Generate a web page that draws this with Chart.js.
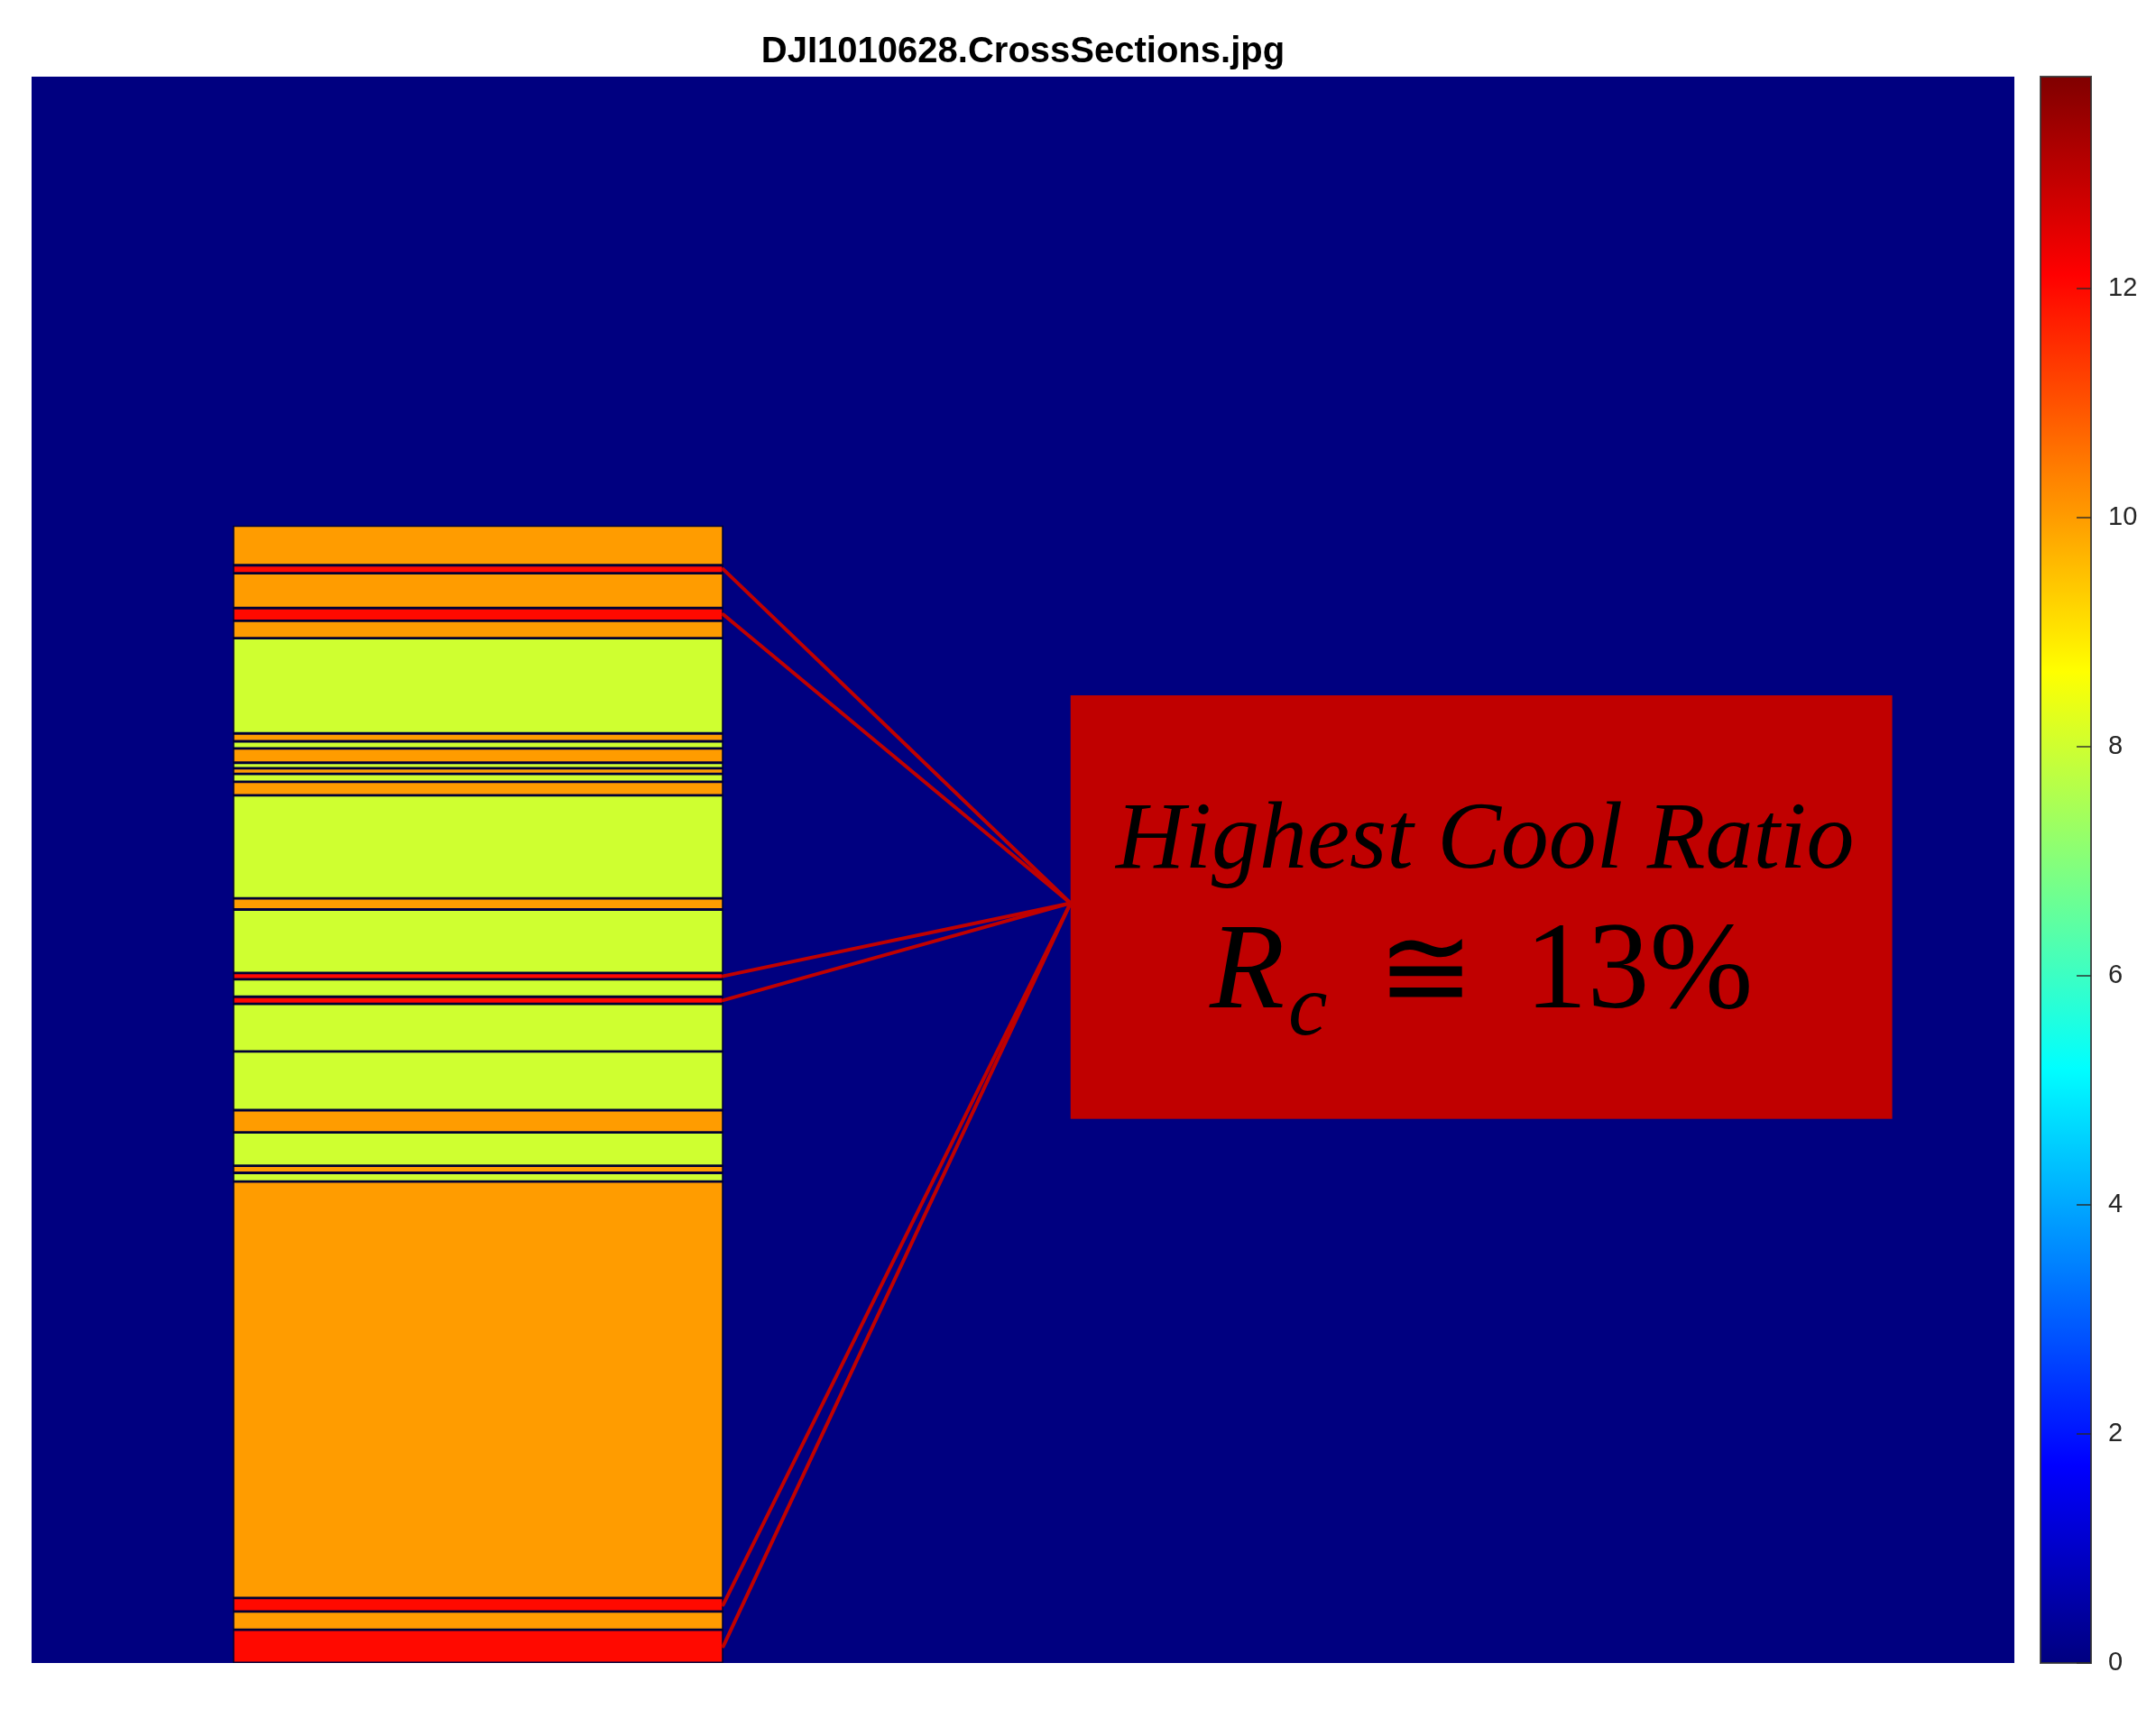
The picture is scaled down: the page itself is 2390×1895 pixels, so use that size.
<!DOCTYPE html>
<html>
<head>
<meta charset="utf-8">
<title>DJI1010628.CrossSections</title>
<script src="https://cdn.jsdelivr.net/npm/chart.js@4.4.1/dist/chart.umd.min.js"></script>
<style>
  html, body { margin: 0; padding: 0; background: #fff; }
  #chart { display: block; }
</style>
</head>
<body>
<canvas id="chart" width="2390" height="1895"></canvas>
<script>
// image grid: columns x rows, row 0 at the top (like imagesc)
const imageCols = 1250;
const imageRows = 1000;

// columns covered by the cross section strip
const sectionCols = [127, 436];

// band edges (rows, top to bottom) and cool ratio of every band
const bandEdges = [283, 308, 313, 335, 343, 354, 414, 419, 423.5, 432.5, 436, 439.5, 444.5, 453, 518, 525,
                   565, 569, 580, 584.5, 614.5, 651.5, 665.5, 686.5, 691, 696.5, 959, 967.5, 979, 1000];
const bandRatio = [10, 12, 10, 12, 10, 8, 10, 8, 10, 8, 10, 8, 10, 8, 10,
                   8, 12, 8, 12, 8, 8, 10, 8, 10, 8, 10, 12, 10, 12];

// colorbar
const colorbarMax = 13.85;
const colorbarTicks = [0, 2, 4, 6, 8, 10, 12];

const chartTitle = 'DJI1010628.CrossSections.jpg';

// callout box (image columns / rows) and the point where the leader lines meet
const calloutCols = [655, 1173];
const calloutRows = [390, 657];
const calloutAnchorRow = 521;
const calloutTitle = 'Highest Cool Ratio';
const calloutValue = '13%';

// matlab jet colormap
function jet(v) {
    const t = Math.min(Math.max(v / colorbarMax, 0), 1);
    const c = k => Math.round(255 * Math.min(Math.max(1.5 - Math.abs(4 * t - k), 0), 1));
    return 'rgb(' + c(3) + ',' + c(2) + ',' + c(1) + ')';
}

const sectionCenter = (sectionCols[0] + sectionCols[1]) / 2;
const bands = bandRatio.map((r, i) => ({ x: sectionCenter, y: [bandEdges[i], bandEdges[i + 1]] }));
const maxRatio = Math.max(...bandRatio);
const hotRows = bandRatio
    .map((r, i) => r === maxRatio ? (bandEdges[i] + bandEdges[i + 1]) / 2 : null)
    .filter(v => v !== null);

const serif = "'Liberation Serif', 'DejaVu Serif', serif";

const crossSectionPlugin = {
    id: 'crossSection',
    beforeDatasetsDraw(chart) {
        const { ctx, chartArea: a, scales } = chart;
        ctx.save();
        // background of the image = ratio 0
        ctx.fillStyle = jet(0);
        ctx.fillRect(a.left, a.top, a.right - a.left, a.bottom - a.top);

        // colorbar
        const cb = scales.cb;
        const x0 = cb.left + 29;
        const w = 56;
        const top = cb.getPixelForValue(colorbarMax);
        const bottom = cb.getPixelForValue(0);
        const grad = ctx.createLinearGradient(0, bottom, 0, top);
        for (let i = 0; i <= 40; i++) {
            grad.addColorStop(i / 40, jet(i / 40 * colorbarMax));
        }
        ctx.fillStyle = grad;
        ctx.fillRect(x0, top, w, bottom - top);
        ctx.strokeStyle = 'rgba(50,50,50,0.85)';
        ctx.lineWidth = 2;
        ctx.strokeRect(x0, top, w, bottom - top);
        ctx.strokeStyle = 'rgba(40,40,40,0.7)';
        colorbarTicks.forEach(v => {
            const y = cb.getPixelForValue(v);
            ctx.beginPath();
            ctx.moveTo(x0 + w - 16, y);
            ctx.lineTo(x0 + w, y);
            ctx.stroke();
        });
        ctx.restore();
    },
    afterDatasetsDraw(chart) {
        const { ctx, scales: { x, y } } = chart;
        const bx0 = x.getPixelForValue(calloutCols[0]);
        const bx1 = x.getPixelForValue(calloutCols[1]);
        const by0 = y.getPixelForValue(calloutRows[0]);
        const by1 = y.getPixelForValue(calloutRows[1]);
        const ax = bx0;
        const ay = y.getPixelForValue(calloutAnchorRow);
        const sx = x.getPixelForValue(sectionCols[1]);

        ctx.save();
        ctx.strokeStyle = '#c00000';
        ctx.lineWidth = 4;
        ctx.lineCap = 'round';
        hotRows.forEach(r => {
            ctx.beginPath();
            ctx.moveTo(sx, y.getPixelForValue(r));
            ctx.lineTo(ax, ay);
            ctx.stroke();
        });

        ctx.fillStyle = '#c00000';
        ctx.fillRect(bx0, by0, bx1 - bx0, by1 - by0);

        const cx = (bx0 + bx1) / 2;
        const h = by1 - by0;
        ctx.fillStyle = '#000';
        ctx.textBaseline = 'alphabetic';
        ctx.textAlign = 'left';

        ctx.font = 'italic 106px ' + serif;
        const tw = ctx.measureText(calloutTitle).width;
        ctx.fillText(calloutTitle, cx - tw / 2 + 4, by0 + h * 0.406);

        // R_c ≅ 13%
        const parts = [
            { t: 'R', font: 'italic 136px ' + serif, gap: 0, dy: 0 },
            { t: 'c', font: 'italic 98px ' + serif, gap: 4, dy: 30 },
            { t: '\u2245', font: '128px ' + serif, gap: 56, dy: 0 },
            { t: calloutValue, font: '138px ' + serif, gap: 56, dy: 0 }
        ];
        let total = 0;
        parts.forEach(p => {
            ctx.font = p.font;
            p.w = ctx.measureText(p.t).width;
            total += p.gap + p.w;
        });
        let px = cx - total / 2;
        const base = by0 + h * 0.736;
        parts.forEach(p => {
            ctx.font = p.font;
            px += p.gap;
            ctx.fillText(p.t, px, base + p.dy);
            px += p.w;
        });
        ctx.restore();
    }
};

const chart = new Chart(document.getElementById('chart').getContext('2d'), {
    type: 'bar',
    data: {
        datasets: [{
            data: bands,
            backgroundColor: bandRatio.map(jet),
            borderColor: 'rgba(0,0,0,0.55)',
            borderWidth: 1.75,
            borderSkipped: false
        }]
    },
    options: {
        responsive: false,
        animation: false,
        devicePixelRatio: 1,
        layout: { padding: { left: 35, right: 0, top: 0, bottom: 51 } },
        plugins: {
            legend: { display: false },
            tooltip: { enabled: false },
            title: {
                display: true,
                text: chartTitle,
                fullSize: false,
                color: '#000',
                font: { family: "'Liberation Sans', Arial, sans-serif", size: 40, weight: 'bold' },
                padding: { top: 34, bottom: 3 }
            }
        },
        scales: {
            x: { type: 'linear', min: 0, max: imageCols, offset: false, display: false },
            y: { type: 'linear', min: 0, max: imageRows, reverse: true, display: false },
            cb: {
                type: 'linear',
                position: 'right',
                min: 0,
                max: colorbarMax,
                grid: { display: false, drawTicks: false },
                border: { display: false },
                afterBuildTicks: s => { s.ticks = colorbarTicks.map(v => ({ value: v })); },
                afterFit: s => {
                    s.width = 157;
                    s.paddingTop = 0;
                    s.paddingBottom = 0;
                },
                ticks: {
                    padding: 104,
                    color: '#262626',
                    font: { family: "'Liberation Sans', Arial, sans-serif", size: 29 }
                }
            }
        }
    },
    plugins: [crossSectionPlugin]
});

// strip width follows the section columns on the x scale
const xs = chart.scales.x;
chart.data.datasets[0].barThickness = xs.getPixelForValue(sectionCols[1]) - xs.getPixelForValue(sectionCols[0]);
chart.update('none');
</script>
</body>
</html>
